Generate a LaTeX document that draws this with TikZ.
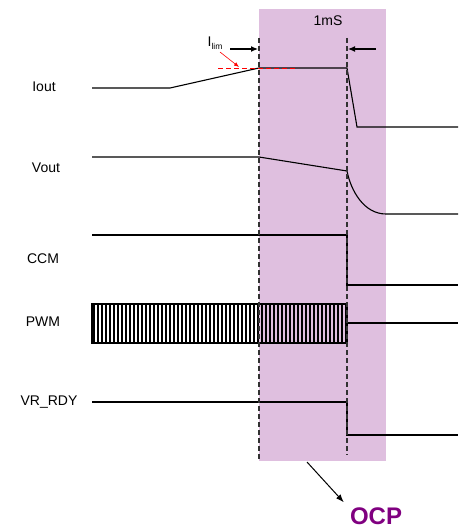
\documentclass[tikz,border=0pt]{standalone}
\usepackage{fontspec}
\setmainfont{Liberation Sans}
\usetikzlibrary{arrows.meta,calc}
\definecolor{ocppink}{RGB}{223,191,223}
\definecolor{ocppurple}{RGB}{128,0,128}
\definecolor{dashgray}{RGB}{50,50,50}
\begin{document}
\begin{tikzpicture}[x=1pt,y=-1pt,
  sig/.style={line width=1.1pt,black},
  guide/.style={line width=1.1pt,dashgray,dash pattern=on 5pt off 3pt},
  lbl/.style={font=\fontsize{14}{16}\selectfont,inner sep=0pt},
  span/.style={line width=1.2pt,black,-{Latex[length=7pt,width=6pt]}},
  bar/.style={line width=1.6pt,black}]
\useasboundingbox (0,0) rectangle (458,529);
% shaded window
\fill[ocppink] (259,9) rectangle (386,461);
% labels
\node[lbl] (liout) at (44,87) {Iout};
\node[lbl] (lvout) at (46,168) {Vout};
\node[lbl] (lccm) at (43,259) {CCM};
\node[lbl] (lpwm) at (43,322) {PWM};
\node[lbl] (lvr) at (49,402) {VR\_RDY};
\node[lbl] (l1ms) at (328,21) {1mS};
\node[lbl] (lilim) at (215,43) {I\raisebox{-2.5pt}{\fontsize{8.5}{9}\selectfont lim}};
\node[inner sep=0pt,text=ocppurple,font=\fontsize{24}{26}\selectfont\bfseries] (ocp) at (376,516) {OCP};
% Iout
\draw[sig] (92,88) -- (170,88) -- (259,68) -- (347,68) -- (357,127) -- (458,127);
% Vout
\draw[sig] (92,157) -- (259,157) -- (347,171) .. controls (351,191) and (364,214) .. (386,214) -- (458,214);
% CCM
\draw[sig] (92,235) -- (347,235) -- (347,285) -- (458,285);
% PWM
\foreach \i in {0,...,63}{
  \draw[bar] ({94+\i*4},304) -- ({94+\i*4},343);
}
\draw[sig] (92,304) rectangle (347,343);
\draw[sig] (347,323) -- (458,323);
% VR_RDY
\draw[sig] (92,402) -- (347,402) -- (347,435) -- (458,435);
% guides
\draw[guide] (259,38) -- (259,460);
\draw[guide] (347,38) -- (347,455);
% 1mS arrows
\coordinate (a1) at (230,49);
\coordinate (a2) at (258,49);
\coordinate (b1) at (376,49);
\coordinate (b2) at (348,49);
\draw[span] (a1) -- (a2);
\draw[span] (b1) -- (b2);
% Ilim marker
\draw[red,line width=0.9pt,dash pattern=on 5pt off 3pt] (218,68) -- (298,68);
\coordinate (r1) at (220,52);
\coordinate (r2) at (239,67);
\draw[red,line width=0.6pt,-{Latex[length=5pt,width=4pt]}] (r1) -- (r2);
% OCP arrow
\coordinate (o1) at (307,462);
\draw[line width=1pt,-{Latex[length=8pt,width=6pt]}] (o1) -- ($(ocp.north west)+(-6,-5)$);
\end{tikzpicture}
\end{document}
